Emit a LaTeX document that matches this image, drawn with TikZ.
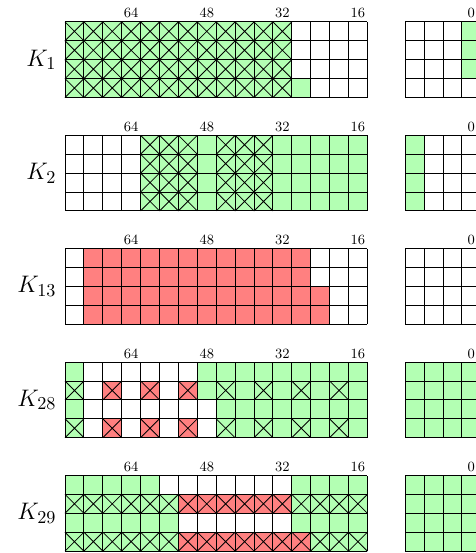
\documentclass[tikz,border=0pt]{standalone}
\usepackage{amsmath}
\usepackage{xcolor}
\usepackage{tikz}
\definecolor{keygreen}{HTML}{B3FFB3}
\definecolor{keyred}{HTML}{FF8080}
\newcommand{\crosscell}[2]{\draw[crossline] (#1,-#2) -- ++(1,-1) ++(0,1) -- ++(-1,-1);}

\begin{document}
\begin{tikzpicture}[
  scale=0.4,
  greencell/.style={fill=keygreen},
  redcell/.style={fill=keyred},
  crossline/.style={draw=black,line width=0.5pt},
  gridline/.style={draw=black,line width=0.55pt},
  bitlabel/.style={font=\fontsize{8.5}{10}\selectfont,anchor=south,inner sep=2pt},
  keylabel/.style={font=\fontsize{15.5}{19}\selectfont,anchor=east}
]
  \useasboundingbox (-3.44,1.16) rectangle (21.74,-28.1);
  \clip (-3.44,1.16) rectangle (21.74,-28.1);

  % K_1
  \fill[greencell] (0,0) rectangle (12,-4);
  \fill[greencell] (12,-3) rectangle (13,-4);
  \fill[greencell] (21,0) rectangle (22,-3);
  \foreach \c in {0,...,11} \foreach \r in {0,...,3} {\crosscell{\c}{\r}}

  % K_2
  \begin{scope}[shift={(0,-6)}]
    \fill[greencell] (4,0) rectangle (16,-4);
    \fill[greencell] (18,0) rectangle (19,-4);
    \foreach \c in {4,5,6,8,9,10} \foreach \r in {0,...,3} {\crosscell{\c}{\r}}
  \end{scope}

  % K_13
  \begin{scope}[shift={(0,-12)}]
    \fill[redcell] (1,0) rectangle (13,-4);
    \fill[redcell] (13,-2) rectangle (14,-4);
  \end{scope}

  % K_28
  \begin{scope}[shift={(0,-18)}]
    \fill[greencell] (0,0) rectangle (1,-4);
    \fill[greencell] (7,0) rectangle (16,-2);
    \fill[greencell] (8,-2) rectangle (16,-4);
    \foreach \c in {2,4,6} \foreach \r in {1,3} {\fill[redcell] (\c,-\r) rectangle ++(1,-1);}
    \fill[greencell] (18,0) rectangle (22,-4);
    \foreach \c in {0,2,...,14} \foreach \r in {1,3} {\crosscell{\c}{\r}}
  \end{scope}

  % K_29
  \begin{scope}[shift={(0,-24)}]
    \fill[greencell] (0,0) rectangle (5,-1);
    \fill[greencell] (12,0) rectangle (16,-1);
    \fill[greencell] (0,-1) rectangle (6,-4);
    \fill[redcell] (6,-1) rectangle (12,-2);
    \fill[greencell] (12,-1) rectangle (16,-3);
    \fill[redcell] (6,-3) rectangle (13,-4);
    \fill[greencell] (13,-3) rectangle (16,-4);
    \fill[greencell] (18,0) rectangle (22,-4);
    \foreach \c in {0,...,15} \foreach \r in {1,3} {\crosscell{\c}{\r}}
  \end{scope}

  % grids and labels
  \foreach \n [count=\i from 0] in {1,2,13,28,29} {
    \begin{scope}[shift={(0,-6*\i)}]
      \draw[gridline] (0,0) grid (16,-4);
      \draw[gridline] (18,0) grid (22,-4);
      \foreach \b/\c in {64/3,48/7,32/11,16/15,0/21}
        \node[bitlabel] (bit\n-\b) at (\c+0.5,0) {\b};
      \node[keylabel] (key\n) at (-0.15,-2) {$K_{\n}$};
    \end{scope}
  }
\end{tikzpicture}
\end{document}
